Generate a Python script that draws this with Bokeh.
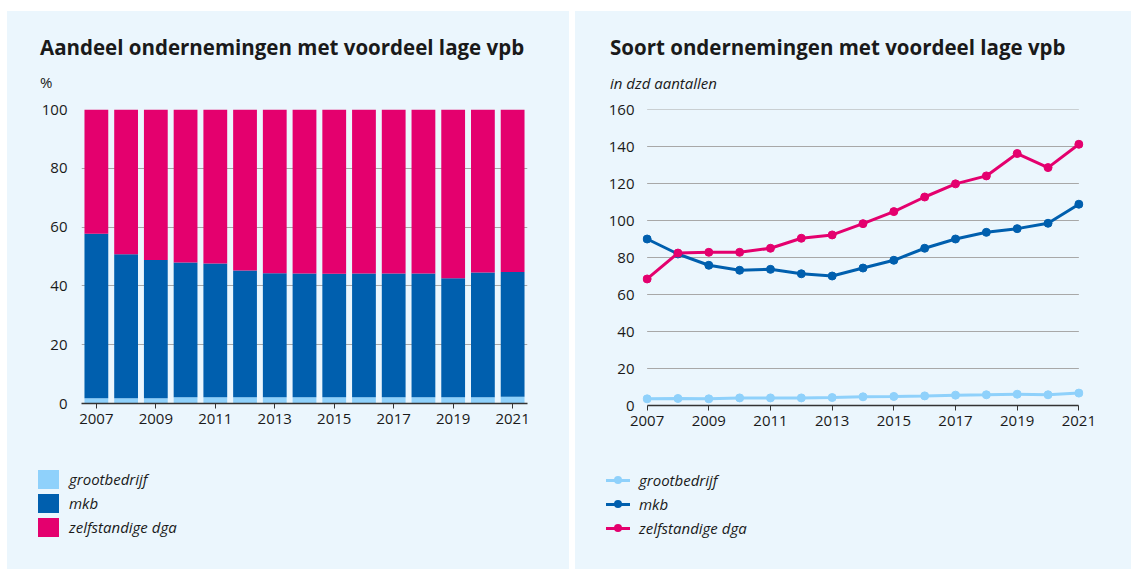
from bokeh.plotting import figure
from bokeh.models import Range1d, FixedTicker, ColumnDataSource, Div
from bokeh.layouts import row, column
from bokeh.embed import file_html
from bokeh.resources import INLINE

# ---------------- data ----------------
years = [2007, 2008, 2009, 2010, 2011, 2012, 2013, 2014, 2015, 2016, 2017, 2018, 2019, 2020, 2021]
series = ["grootbedrijf", "mkb", "zelfstandige dga"]

# left: share (%)
share_groot = [1.8, 1.8, 1.8, 2.1, 2.1, 2.1, 2.1, 2.1, 2.1, 2.1, 2.1, 2.1, 2.1, 2.1, 2.3]
share_mkb = [55.9, 49.0, 47.0, 45.9, 45.5, 43.1, 42.2, 42.1, 42.0, 42.1, 42.1, 42.1, 40.5, 42.5, 42.4]
share_dga = [42.3, 49.2, 51.2, 52.0, 52.4, 54.8, 55.7, 55.8, 55.9, 55.8, 55.8, 55.8, 57.4, 55.4, 55.3]

# right: counts (x 10 000)
cnt_groot = [3.6, 3.8, 3.6, 4.1, 4.1, 4.1, 4.3, 4.7, 4.9, 5.2, 5.6, 5.8, 6.1, 5.8, 6.7]
cnt_mkb = [90.0, 81.9, 75.8, 73.1, 73.6, 71.2, 70.0, 74.3, 78.5, 85.0, 90.0, 93.6, 95.6, 98.5, 108.8]
cnt_dga = [68.4, 82.4, 82.8, 82.8, 85.0, 90.4, 92.2, 98.3, 104.8, 112.7, 119.8, 124.1, 136.2, 128.6, 141.2]

left_yticks = [0, 20, 40, 60, 80, 100]
right_yticks = [0, 20, 40, 60, 80, 100, 120, 140, 160]
xticks = years[::2]

title_left = "Aandeel ondernemingen met voordeel lage vpb"
title_right = "Soort ondernemingen met voordeel lage vpb"
unit_left = "%"
unit_right = "in dzd aantallen"

# ---------------- style ----------------
BG = "#ebf6fd"
C_GROOT = "#8fd1fb"
C_MKB = "#005fae"
C_DGA = "#e4006e"
COLORS = [C_GROOT, C_MKB, C_DGA]
TXT = "#1a1a1a"
FONT = "Open Sans"
W1, W2 = 562, 556


def header(width, main, unit, unit_italic, x, unit_top):
    style_u = "italic" if unit_italic else "normal"
    html = (
        f'<div style="position:relative;width:{width}px;height:88px;font-family:\'{FONT}\';color:{TXT};">'
        f'<div style="position:absolute;left:{x}px;top:26px;font-size:20.5px;font-weight:bold;'
        f'line-height:1;white-space:nowrap;">{main}</div>'
        f'<div style="position:absolute;left:{x}px;top:{unit_top}px;font-size:15px;font-style:{style_u};'
        f'line-height:1;white-space:nowrap;">{unit}</div>'
        '</div>'
    )
    return Div(text=html, width=width, height=88, margin=0, styles={"background-color": BG})


def legend_div(width, kind):
    rows = []
    for i, (s, col) in enumerate(zip(series, COLORS)):
        if kind == "box":
            top = 21 + 24 * i
            sw = (f'<div style="position:absolute;left:31px;top:0;width:21px;height:19px;'
                  f'background:{col};"></div>')
            h = 19
            tx = 62
        else:
            top = 21 + 24 * i
            sw = (f'<div style="position:absolute;left:31px;top:8.5px;width:24px;height:3px;'
                  f'background:{col};"></div>'
                  f'<div style="position:absolute;left:39px;top:6px;width:8px;height:8px;'
                  f'border-radius:50%;background:{col};"></div>')
            h = 20
            tx = 64
        rows.append(
            f'<div style="position:absolute;left:0;top:{top}px;width:{width}px;height:{h}px;">{sw}'
            f'<div style="position:absolute;left:{tx}px;top:0;height:{h}px;line-height:{h}px;'
            f'font-size:15px;font-style:italic;white-space:nowrap;">{s}</div></div>'
        )
    html = (f'<div style="position:relative;width:{width}px;height:120px;font-family:\'{FONT}\';'
            f'color:{TXT};">' + "".join(rows) + '</div>')
    return Div(text=html, width=width, height=120, margin=0, styles={"background-color": BG})


def style_axes(p):
    for ax in p.xaxis:
        ax.axis_line_color = "#333333"
        ax.axis_line_width = 1.5
        ax.major_tick_line_color = "#333333"
        ax.major_tick_out = 5
        ax.major_tick_in = 0
        ax.minor_tick_line_color = None
        ax.major_label_text_font = FONT
        ax.major_label_text_font_size = "15px"
        ax.major_label_text_color = TXT
        ax.major_label_standoff = 5
    for ax in p.yaxis:
        ax.axis_line_color = None
        ax.major_tick_line_color = None
        ax.minor_tick_line_color = None
        ax.major_label_text_font = FONT
        ax.major_label_text_font_size = "15px"
        ax.major_label_text_color = TXT
    p.xgrid.grid_line_color = None


# ---------------- left chart ----------------
p1 = figure(width=W1, height=350, x_range=Range1d(2006.5, 2021.5), y_range=Range1d(0, 100),
            output_backend="svg", toolbar_location=None,
            min_border_left=74, min_border_right=42, min_border_top=10, min_border_bottom=46,
            background_fill_color=BG, border_fill_color=BG, outline_line_color=None, margin=0)
src = ColumnDataSource(dict(year=years, groot=share_groot, mkb=share_mkb, dga=share_dga))
p1.vbar_stack(["groot", "mkb", "dga"], x="year", width=0.8, source=src,
              color=COLORS, line_color=None)
style_axes(p1)
p1.xaxis.ticker = FixedTicker(ticks=xticks)
p1.yaxis.ticker = FixedTicker(ticks=left_yticks)
p1.yaxis.major_label_standoff = 8
p1.ygrid.grid_line_color = "#a8a8a8"
p1.ygrid.grid_line_width = 1

# ---------------- right chart ----------------
p2 = figure(width=W2, height=350, x_range=Range1d(2006.85, 2021.15), y_range=Range1d(0, 160),
            output_backend="svg", toolbar_location=None,
            min_border_left=67, min_border_right=48, min_border_top=10, min_border_bottom=44,
            background_fill_color=BG, border_fill_color=BG, outline_line_color=None, margin=0)
style_axes(p2)
p2.xaxis.ticker = FixedTicker(ticks=xticks)
p2.xaxis.bounds = (years[0], years[-1])
p2.yaxis.ticker = FixedTicker(ticks=right_yticks)
p2.yaxis.major_label_standoff = 2
p2.ygrid.grid_line_color = None
grid_y = right_yticks[1:]
p2.segment(x0=[years[0]] * len(grid_y), x1=[years[-1]] * len(grid_y),
           y0=grid_y, y1=grid_y, line_color="#a8a8a8", line_width=1, level="underlay")

for vals, col in zip([cnt_groot, cnt_mkb, cnt_dga], COLORS):
    p2.line(years, vals, line_width=3, line_color=col)
    p2.scatter(years, vals, size=8, fill_color=col, line_color=col)

col1 = column(header(W1, title_left, unit_left, False, 33, 64), p1, legend_div(W1, "box"),
              spacing=0, styles={"background-color": BG})
col2 = column(header(W2, title_right, unit_right, True, 35, 65), p2, legend_div(W2, "line"),
              spacing=0, styles={"background-color": BG})
layout = row(col1, col2, spacing=6, margin=(11, 0, 0, 7))
open("out.html", "w").write(file_html(layout, INLINE))
